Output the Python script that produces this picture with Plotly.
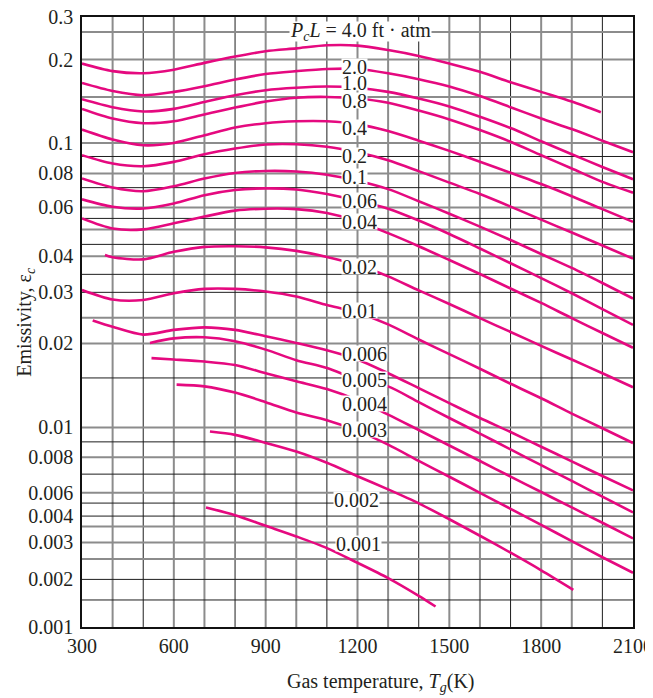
import numpy as np
import plotly.graph_objects as go

# printed (non-uniform) emissivity scale of the chart: gridline values and their place on the axis
grid_eps = [0.001, 0.0015, 0.002, 0.0025, 0.003, 0.0035, 0.004, 0.005, 0.006, 0.007, 0.008, 0.009,
            0.01, 0.015, 0.02, 0.025, 0.03, 0.035, 0.04, 0.045, 0.05, 0.055, 0.06, 0.07, 0.08, 0.09,
            0.1, 0.15, 0.2, 0.25, 0.3]
grid_pos = [0, 27, 47.6, 68, 84.6, 100.6, 111, 124, 134.3, 153, 170, 185.3,
            199.8, 249.3, 283.8, 309.6, 335, 353, 371.1, 383, 398, 409, 420, 439.8, 454, 471,
            484.6, 530.6, 568, 595.6, 610.6]
grid_dark = [1, 1, 1, 0, 0, 0, 1, 1, 0, 1, 0, 1,
             0, 1, 0, 0, 1, 1, 0, 1, 0, 1, 0, 1, 0, 1,
             0, 0, 0, 0, 1]

y_ticks = [0.001, 0.002, 0.003, 0.004, 0.006, 0.008, 0.01, 0.02, 0.03, 0.04, 0.06, 0.08, 0.1, 0.2, 0.3]
y_ticktext = ["0.001", "0.002", "0.003", "0.004", "0.006", "0.008", "0.01", "0.02", "0.03",
              "0.04", "0.06", "0.08", "0.1", "0.2", "0.3"]
x_ticks = [300, 600, 900, 1200, 1500, 1800, 2100]

T_full = [300, 400, 500, 600, 700, 800, 900, 1000, 1100, 1200, 1300, 1400, 1500, 1600, 1700,
          1800, 1900, 2000, 2100]

# P_c L = 4.0 ft.atm
T_4_0 = [300, 400, 500, 600, 700, 800, 900, 1000, 1100, 1200, 1300, 1400, 1500, 1600, 1700,
         1800, 1900, 1995]
e_4_0 = [0.194, 0.183, 0.180, 0.185, 0.195, 0.205, 0.214, 0.219, 0.2245, 0.224, 0.216, 0.206,
         0.194, 0.182, 0.168, 0.156, 0.144, 0.131]
e_2_0 = [0.167, 0.157, 0.152, 0.156, 0.163, 0.1715, 0.179, 0.183, 0.186, 0.186, 0.180, 0.172,
         0.1625, 0.151, 0.137, 0.124, 0.113, 0.102, 0.093]
e_1_0 = [0.147, 0.137, 0.132, 0.135, 0.1435, 0.152, 0.158, 0.161, 0.1625, 0.161, 0.156, 0.148,
         0.138, 0.126, 0.114, 0.1015, 0.0916, 0.0837, 0.0758]
e_0_8 = [0.135, 0.124, 0.119, 0.121, 0.1285, 0.1366, 0.144, 0.149, 0.150, 0.148, 0.1425, 0.133,
         0.123, 0.112, 0.101, 0.0909, 0.0828, 0.0739, 0.0673]
e_0_4 = [0.1125, 0.103, 0.0982, 0.100, 0.107, 0.1145, 0.119, 0.121, 0.121, 0.118, 0.111, 0.102,
         0.094, 0.0868, 0.0804, 0.0724, 0.0655, 0.0592, 0.0534]
e_0_2 = [0.0909, 0.0857, 0.0841, 0.0867, 0.0916, 0.0957, 0.0988, 0.0990, 0.0971, 0.093, 0.0877,
         0.0813, 0.0734, 0.0666, 0.0604, 0.0544, 0.0489, 0.0445, 0.0393]
e_0_1 = [0.0763, 0.0701, 0.0681, 0.071, 0.0763, 0.0803, 0.0814, 0.0811, 0.0791, 0.0747, 0.0692,
         0.063, 0.0571, 0.0512, 0.0464, 0.0409, 0.0367, 0.0325, 0.0287]
e_0_06 = [0.0639, 0.0603, 0.0595, 0.0619, 0.066, 0.0687, 0.0696, 0.069, 0.0666, 0.0632, 0.0594,
          0.054, 0.0484, 0.0432, 0.038, 0.0339, 0.0298, 0.0266, 0.0235]
e_0_04 = [0.055, 0.0504, 0.050, 0.0527, 0.0558, 0.0585, 0.0594, 0.0592, 0.0574, 0.0537, 0.0487,
          0.0442, 0.0389, 0.0351, 0.031, 0.0278, 0.0249, 0.0219, 0.0193]
T_0_02 = [375] + T_full[1:]
e_0_02 = [0.0405, 0.0397, 0.0391, 0.0418, 0.0439, 0.0442, 0.0437, 0.0422, 0.0398, 0.0375, 0.0344,
          0.0305, 0.0276, 0.0249, 0.0221, 0.0196, 0.0175, 0.0156, 0.0139]
e_0_01 = [0.0306, 0.0285, 0.0284, 0.0298, 0.0309, 0.0309, 0.0302, 0.0291, 0.0274, 0.0259, 0.0236,
          0.0207, 0.0183, 0.0162, 0.0143, 0.0127, 0.0112, 0.00994, 0.00892]
T_0_006 = [335] + T_full[1:]
e_0_006 = [0.0244, 0.0231, 0.0216, 0.0225, 0.0230, 0.0225, 0.0213, 0.0201, 0.0189, 0.0175, 0.0156,
           0.0138, 0.0122, 0.0108, 0.00967, 0.00867, 0.00774, 0.00689, 0.00612]
T_0_005 = [522] + T_full[3:]
e_0_005 = [0.0201, 0.0209, 0.0211, 0.0204, 0.0190, 0.0174, 0.0163, 0.0148, 0.0140, 0.0123, 0.0108,
           0.00956, 0.00849, 0.00751, 0.00662, 0.0056, 0.00426]
T_0_004 = [527] + T_full[3:]
e_0_004 = [0.0177, 0.0175, 0.0172, 0.0167, 0.0156, 0.0146, 0.0137, 0.0125, 0.0111, 0.00981,
           0.00875, 0.00776, 0.00686, 0.00604, 0.00464, 0.00367, 0.00312]
T_0_003 = [609] + T_full[4:]
e_0_003 = [0.0142, 0.0140, 0.0133, 0.0123, 0.0113, 0.0106, 0.00975, 0.00881, 0.00777, 0.00685,
           0.0060, 0.00453, 0.00357, 0.00304, 0.00255, 0.00215]
T_0_002 = [718, 800, 900, 1000, 1100, 1200, 1300, 1400, 1500, 1600, 1700, 1800, 1905]
e_0_002 = [0.0097, 0.00947, 0.00893, 0.00835, 0.00765, 0.00688, 0.00617, 0.00498, 0.00384,
           0.0032, 0.00268, 0.00221, 0.00173]
T_0_001 = [705, 800, 900, 1000, 1100, 1200, 1300, 1400, 1455]
e_0_001 = [0.00464, 0.00406, 0.00353, 0.00318, 0.00282, 0.0024, 0.00203, 0.00159, 0.00136]

curve_T = [T_4_0, T_full, T_full, T_full, T_full, T_full, T_full, T_full, T_full, T_0_02,
           T_full, T_0_006, T_0_005, T_0_004, T_0_003, T_0_002, T_0_001]
curve_e = [e_4_0, e_2_0, e_1_0, e_0_8, e_0_4, e_0_2, e_0_1, e_0_06, e_0_04, e_0_02,
           e_0_01, e_0_006, e_0_005, e_0_004, e_0_003, e_0_002, e_0_001]

# curve labels (text, left edge in K, emissivity at label centre)
label_text = ["2.0", "1.0", "0.8", "0.4", "0.2", "0.1", "0.06", "0.04", "0.02", "0.01",
              "0.006", "0.005", "0.004", "0.003", "0.002", "0.001"]
label_T = [1146] * 14 + [1119, 1125]
label_e = [0.189, 0.168, 0.1457, 0.115, 0.0909, 0.0775, 0.0635, 0.0534, 0.037, 0.0264,
           0.0184, 0.01476, 0.0122, 0.00982, 0.0053, 0.00298]

MAG = "#e5097f"
FONT = "Liberation Serif"
INK = "#231f20"
lg_e = np.log10(grid_eps)


def to_axis(e):
    return np.interp(np.log10(e), lg_e, grid_pos)


fig = go.Figure()

shapes = []
for T in range(400, 2100, 100):
    dark = (T - 500) % 300 == 0
    shapes.append(dict(type="line", xref="x", yref="y", x0=T, x1=T, y0=grid_pos[0], y1=grid_pos[-1],
                       layer="below",
                       line=dict(color="#1e1e1e" if dark else "#8c8c8c", width=1 if dark else 2)))
for e, p, d in zip(grid_eps[1:-1], grid_pos[1:-1], grid_dark[1:-1]):
    shapes.append(dict(type="line", xref="x", yref="y", x0=300, x1=2100, y0=p, y1=p,
                       layer="below",
                       line=dict(color="#1e1e1e" if d else "#8c8c8c", width=1 if d else 2)))

for T, e in zip(curve_T, curve_e):
    fig.add_trace(go.Scatter(x=T, y=to_axis(e), mode="lines", showlegend=False, hoverinfo="skip",
                             line=dict(color=MAG, width=2.6, shape="spline", smoothing=0.8)))

ann = []
for txt, T, e in zip(label_text, label_T, label_e):
    ann.append(dict(x=T, y=float(to_axis(e)), xref="x", yref="y", text=txt, showarrow=False,
                    xanchor="left", yanchor="middle", bgcolor="white", borderpad=0, height=15,
                    font=dict(family=FONT, size=20, color=INK)))
ann.append(dict(x=975, y=float(to_axis(0.25)), xref="x", yref="y", yshift=1,
                text="<i>P</i><sub><i>c</i></sub><i>L</i> = 4.0 ft · atm", showarrow=False,
                xanchor="left", yanchor="middle", bgcolor="white", borderpad=0, height=19,
                font=dict(family=FONT, size=20, color=INK)))
ann.append(dict(x=0.5426, y=-0.0913, xref="paper", yref="paper",
                text="Gas temperature, <i>T</i><sub><i>g</i></sub>(K)", showarrow=False,
                xanchor="center", yanchor="middle", font=dict(family=FONT, size=20, color=INK)))
ann.append(dict(x=-0.104, y=0.5, xref="paper", yref="paper", textangle=-90,
                text="Emissivity, ε<sub><i>c</i></sub>", showarrow=False,
                xanchor="center", yanchor="middle", font=dict(family=FONT, size=20, color=INK)))

# the page body adds an 8 px margin, so the figure is 8 px smaller and shifted
fig.update_layout(
    width=645, height=690,
    margin=dict(l=74, r=20, t=9, b=71, autoexpand=False),
    plot_bgcolor="white", paper_bgcolor="white",
    shapes=shapes, annotations=ann,
    font=dict(family=FONT, size=20, color=INK),
    xaxis=dict(range=[300, 2100], tickvals=x_ticks, showgrid=False, zeroline=False, automargin=False,
               showline=True, mirror=True, linecolor="#111", linewidth=1.5, ticks="",
               ticklabeloverflow="allow"),
    yaxis=dict(range=[grid_pos[0] - 0.05, grid_pos[-1] + 0.05],
               tickvals=[float(v) for v in to_axis(y_ticks)],
               ticktext=y_ticktext, showgrid=False, zeroline=False, automargin=False,
               ticklabelstandoff=3, ticklabeloverflow="allow",
               showline=True, mirror=True, linecolor="#111", linewidth=1.5, ticks=""),
)

fig.write_html("out.html")
